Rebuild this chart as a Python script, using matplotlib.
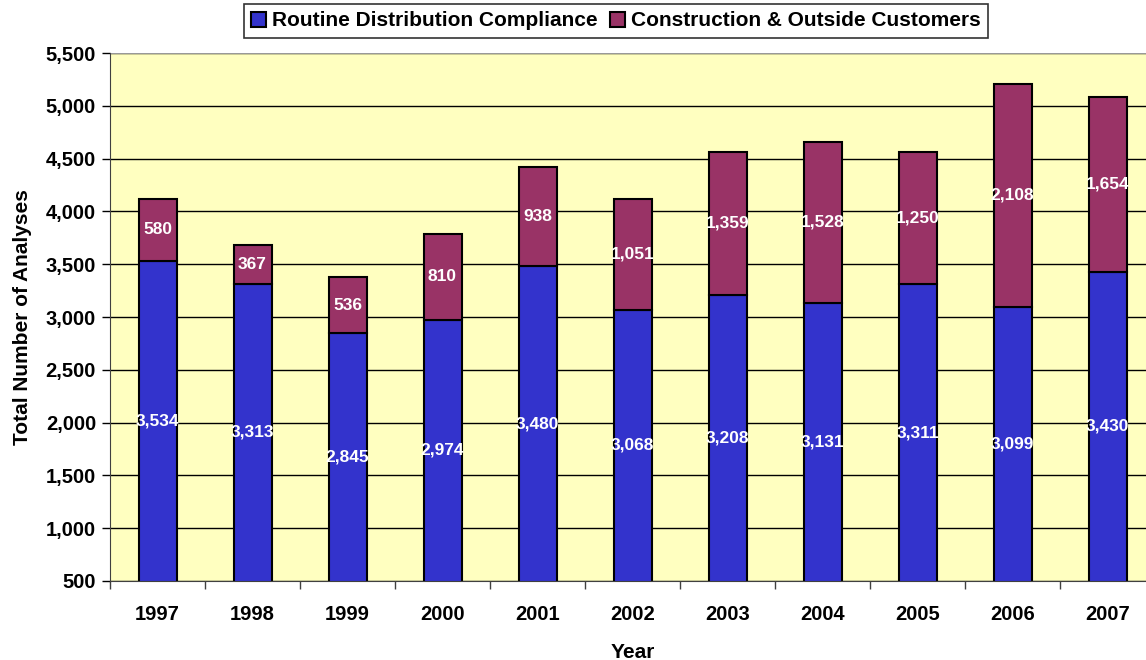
import matplotlib.pyplot as plt
import numpy as np

plt.rcParams['font.family'] = ['Liberation Sans', 'DejaVu Sans']
plt.rcParams['font.weight'] = 'bold'

years = ["1997", "1998", "1999", "2000", "2001", "2002", "2003", "2004", "2005", "2006", "2007"]
routine = [3534, 3313, 2845, 2974, 3480, 3068, 3208, 3131, 3311, 3099, 3430]
construction = [580, 367, 536, 810, 938, 1051, 1359, 1528, 1250, 2108, 1654]

blue = "#3333CC"
maroon = "#993366"

fig = plt.figure(figsize=(11.46, 6.6), dpi=100)
ax = fig.add_axes([110 / 1146, 79 / 660, 1045 / 1146, 528 / 660])
ax.set_facecolor("#FFFFC0")

x = np.arange(len(years))
ymin, ymax = 500, 5500
ax.set_ylim(ymin, ymax)
ax.set_xlim(-0.5, len(years) - 0.5)

ax.set_axisbelow(True)
ax.yaxis.grid(True, color="black", linewidth=1)

b1 = ax.bar(x, routine, width=0.4, color=blue, edgecolor="black", linewidth=1.5,
            label="Routine Distribution Compliance")
b2 = ax.bar(x, construction, width=0.4, bottom=routine, color=maroon, edgecolor="black",
            linewidth=1.5, label="Construction & Outside Customers")

for i in range(len(years)):
    ax.text(x[i], (ymin + routine[i]) / 2, f"{routine[i]:,}", ha="center", va="center",
            color="white", fontsize=12.5, fontweight="bold")
    ax.text(x[i], routine[i] + construction[i] / 2, f"{construction[i]:,}", ha="center",
            va="center", color="white", fontsize=12.5, fontweight="bold")

ax.set_yticks(np.arange(500, 5501, 500))
ax.set_yticklabels([f"{v:,}" for v in range(500, 5501, 500)], fontsize=14.5, fontweight="bold")
ax.set_xticks(x)
ax.set_xticklabels(years, fontsize=14.5, fontweight="bold")
ax.set_xticks(np.arange(-0.5, len(years), 1), minor=True)
ax.tick_params(axis="x", which="major", length=0, pad=17)
ax.tick_params(axis="x", which="minor", length=6, width=1, color="#404040")
ax.tick_params(axis="y", length=6, width=1, pad=4)

for s in ["top", "right"]:
    ax.spines[s].set_visible(False)
ax.spines["left"].set_color("#404040")
ax.spines["bottom"].set_color("#404040")
ax.axhline(ymax, color="#999999", linewidth=1.5)

ax.set_xlabel("Year", fontsize=15, fontweight="bold", labelpad=14)
ax.set_ylabel("Total Number of Analyses", fontsize=15, fontweight="bold", labelpad=10)

leg = fig.legend(handles=[b1, b2], loc="center", bbox_to_anchor=(616 / 1146, 1 - 21 / 660),
                 ncol=2, frameon=True, fancybox=False, handlelength=0.7,
                 handleheight=0.75, handletextpad=0.3, columnspacing=0.6, borderpad=0.35,
                 prop={"weight": "bold", "size": 15})
leg.get_frame().set_edgecolor("black")
leg.get_frame().set_linewidth(1.2)

fig.savefig("out.png", dpi=100)
